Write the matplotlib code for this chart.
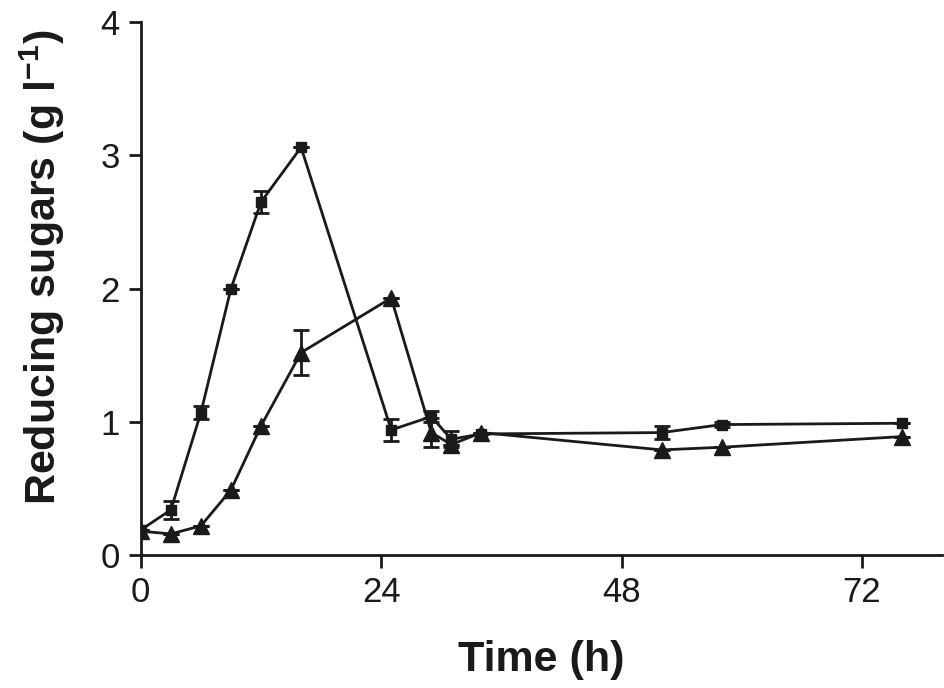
import matplotlib
matplotlib.use("Agg")
import matplotlib.pyplot as plt

plt.rcParams["font.family"] = ["Liberation Sans", "DejaVu Sans"]
plt.rcParams["mathtext.fontset"] = "custom"
plt.rcParams["mathtext.rm"] = "Liberation Sans"
plt.rcParams["mathtext.bf"] = "Liberation Sans:bold"

# ---------------------------------------------------------
#  Data
# ---------------------------------------------------------
time_h = [0, 3, 6, 9, 12, 16, 25, 29, 31, 34, 52, 58, 76]

sugar_sq = [0.19, 0.34, 1.07, 2.00, 2.65, 3.06, 0.94, 1.04, 0.87, 0.91, 0.92, 0.98, 0.99]
err_sq = [0, 0.07, 0.05, 0, 0.08, 0, 0.08, 0.04, 0.06, 0, 0.05, 0.02, 0]

sugar_tri = [0.18, 0.16, 0.22, 0.49, 0.97, 1.52, 1.93, 0.92, 0.83, 0.92, 0.79, 0.81, 0.89]
err_tri = [0, 0, 0, 0, 0, 0.17, 0, 0.11, 0, 0, 0, 0, 0]

x_ticks = [0, 24, 48, 72]
y_ticks = [0, 1, 2, 3, 4]

ink = "#1a1a1a"
lw = 2.0

fig = plt.figure(figsize=(9.45, 6.88), dpi=100)
ax = fig.add_axes([0.149, 0.193, 0.848, 0.775])

ax.errorbar(time_h, sugar_sq, yerr=err_sq, color=ink, marker="s", ms=7.5,
            lw=lw, elinewidth=lw, capsize=6, capthick=lw, zorder=3)
ax.errorbar(time_h, sugar_tri, yerr=err_tri, color=ink, marker="^", ms=11,
            lw=lw, elinewidth=lw, capsize=6, capthick=lw, zorder=3)

ax.set_xlim(0, 80)
ax.set_ylim(0, 4)
ax.set_xticks(x_ticks)
ax.set_yticks(y_ticks)

for side in ["top", "right"]:
    ax.spines[side].set_visible(False)
for side in ["left", "bottom"]:
    ax.spines[side].set_linewidth(lw)
    ax.spines[side].set_color(ink)
ax.spines["left"].set_bounds(0, 4)

ax.tick_params(axis="both", length=9, width=lw, color=ink,
               labelsize=25, labelcolor=ink, pad=6)

ax.set_xlabel("Time (h)", fontsize=31, fontweight="bold", color=ink, labelpad=22)
ax.set_ylabel(r"Reducing sugars (g l$^{\mathbf{-1}}$)", fontsize=31,
              fontweight="bold", color=ink)
ax.yaxis.set_label_coords(-0.092, 0.54)

fig.savefig("out.png", dpi=100)
